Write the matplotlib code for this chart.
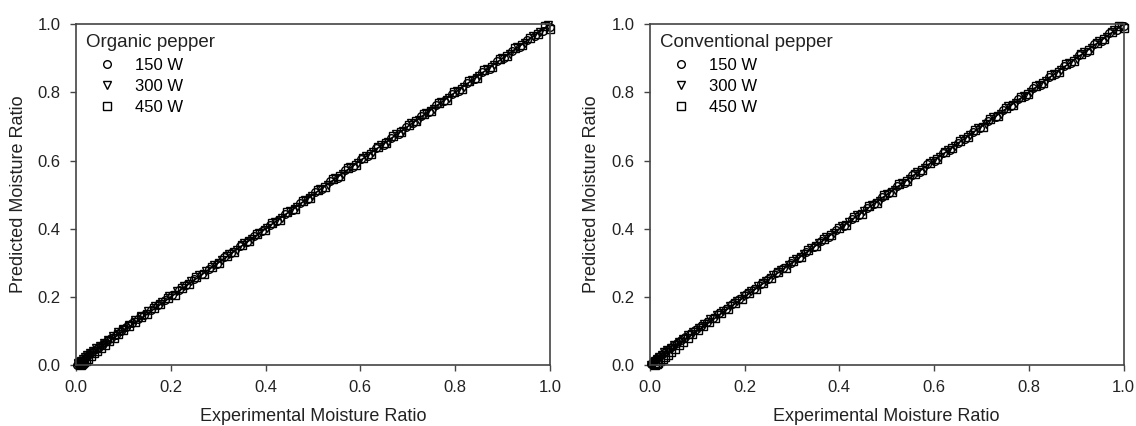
import matplotlib.pyplot as plt

plt.rcParams['font.family'] = ['Liberation Sans', 'DejaVu Sans']

# Organic pepper: experimental vs predicted moisture ratio
org_150_exp = [1.000, 0.985, 0.969, 0.952, 0.937, 0.921, 0.904, 0.889, 0.873, 0.856,
               0.841, 0.825, 0.808, 0.793, 0.777, 0.760, 0.745, 0.729, 0.712, 0.697,
               0.681, 0.664, 0.649, 0.633, 0.616, 0.601, 0.585, 0.568, 0.553, 0.537,
               0.520, 0.505, 0.489, 0.472, 0.457, 0.441, 0.424, 0.409, 0.393, 0.376,
               0.361, 0.345, 0.328, 0.313, 0.297, 0.280, 0.265, 0.249, 0.233, 0.218,
               0.202, 0.187, 0.172, 0.158, 0.144, 0.131, 0.118, 0.106, 0.095, 0.084,
               0.074, 0.065, 0.056, 0.048, 0.041, 0.034, 0.028, 0.023, 0.018, 0.014,
               0.010, 0.007, 0.004, 0.002]
org_150_pre = [0.991, 0.981, 0.966, 0.954, 0.934, 0.923, 0.901, 0.892, 0.870, 0.859,
               0.838, 0.828, 0.805, 0.796, 0.774, 0.763, 0.742, 0.732, 0.709, 0.700,
               0.678, 0.667, 0.646, 0.636, 0.613, 0.604, 0.582, 0.571, 0.550, 0.540,
               0.518, 0.508, 0.487, 0.475, 0.455, 0.444, 0.423, 0.412, 0.392, 0.379,
               0.360, 0.348, 0.328, 0.316, 0.297, 0.283, 0.266, 0.252, 0.235, 0.221,
               0.205, 0.190, 0.176, 0.162, 0.148, 0.135, 0.123, 0.111, 0.100, 0.089,
               0.079, 0.070, 0.061, 0.053, 0.046, 0.039, 0.033, 0.027, 0.021, 0.016,
               0.011, 0.007, 0.003, 0.001]
org_300_exp = [0.996, 0.979, 0.964, 0.947, 0.931, 0.915, 0.899, 0.883, 0.867, 0.851,
               0.835, 0.819, 0.803, 0.787, 0.771, 0.755, 0.739, 0.723, 0.707, 0.691,
               0.675, 0.659, 0.643, 0.627, 0.611, 0.595, 0.579, 0.563, 0.547, 0.531,
               0.515, 0.499, 0.483, 0.467, 0.451, 0.435, 0.419, 0.403, 0.387, 0.371,
               0.355, 0.339, 0.323, 0.307, 0.291, 0.275, 0.259, 0.243, 0.227, 0.212,
               0.196, 0.181, 0.166, 0.152, 0.138, 0.125, 0.112, 0.100, 0.089, 0.078,
               0.068, 0.059, 0.051, 0.043, 0.036, 0.030, 0.024, 0.019, 0.015, 0.011,
               0.008, 0.005, 0.003]
org_300_pre = [0.998, 0.976, 0.966, 0.944, 0.933, 0.912, 0.901, 0.880, 0.869, 0.848,
               0.837, 0.816, 0.805, 0.784, 0.773, 0.752, 0.741, 0.720, 0.709, 0.688,
               0.677, 0.656, 0.645, 0.624, 0.613, 0.592, 0.581, 0.561, 0.549, 0.529,
               0.517, 0.497, 0.485, 0.465, 0.453, 0.433, 0.421, 0.402, 0.389, 0.370,
               0.357, 0.339, 0.325, 0.308, 0.294, 0.277, 0.263, 0.246, 0.232, 0.216,
               0.202, 0.186, 0.172, 0.158, 0.145, 0.131, 0.119, 0.107, 0.096, 0.085,
               0.075, 0.066, 0.057, 0.049, 0.042, 0.035, 0.029, 0.023, 0.018, 0.013,
               0.009, 0.005, 0.002]
org_450_exp = [1.000, 0.990, 0.974, 0.958, 0.942, 0.926, 0.910, 0.894, 0.878, 0.862,
               0.846, 0.830, 0.814, 0.798, 0.782, 0.766, 0.750, 0.734, 0.718, 0.702,
               0.686, 0.670, 0.654, 0.638, 0.622, 0.606, 0.590, 0.574, 0.558, 0.542,
               0.526, 0.510, 0.494, 0.478, 0.462, 0.446, 0.430, 0.414, 0.398, 0.382,
               0.366, 0.350, 0.334, 0.318, 0.302, 0.286, 0.270, 0.254, 0.238, 0.223,
               0.208, 0.193, 0.178, 0.164, 0.150, 0.137, 0.124, 0.112, 0.100, 0.089,
               0.079, 0.069, 0.060, 0.052, 0.044, 0.037, 0.031, 0.026, 0.021, 0.017,
               0.014, 0.012, 0.010]
org_450_pre = [0.986, 0.996, 0.971, 0.961, 0.939, 0.929, 0.907, 0.897, 0.875, 0.865,
               0.843, 0.833, 0.811, 0.801, 0.779, 0.769, 0.747, 0.737, 0.715, 0.705,
               0.683, 0.673, 0.651, 0.641, 0.619, 0.609, 0.587, 0.577, 0.555, 0.545,
               0.523, 0.513, 0.491, 0.481, 0.459, 0.449, 0.427, 0.417, 0.395, 0.385,
               0.363, 0.353, 0.332, 0.321, 0.300, 0.289, 0.268, 0.257, 0.237, 0.226,
               0.207, 0.196, 0.178, 0.167, 0.151, 0.140, 0.126, 0.115, 0.102, 0.092,
               0.080, 0.070, 0.060, 0.051, 0.042, 0.034, 0.026, 0.019, 0.013, 0.008,
               0.005, 0.003, 0.001]

# Conventional pepper
con_150_exp = [1.000, 0.986, 0.970, 0.954, 0.938, 0.922, 0.906, 0.890, 0.874, 0.858,
               0.842, 0.826, 0.810, 0.794, 0.778, 0.762, 0.746, 0.730, 0.714, 0.698,
               0.682, 0.666, 0.650, 0.634, 0.618, 0.602, 0.586, 0.570, 0.554, 0.538,
               0.522, 0.506, 0.490, 0.474, 0.458, 0.442, 0.426, 0.410, 0.394, 0.378,
               0.362, 0.346, 0.330, 0.314, 0.298, 0.282, 0.266, 0.250, 0.234, 0.219,
               0.204, 0.189, 0.174, 0.160, 0.146, 0.133, 0.120, 0.108, 0.096, 0.085,
               0.075, 0.066, 0.057, 0.049, 0.042, 0.035, 0.029, 0.023, 0.018, 0.014,
               0.010, 0.007, 0.004, 0.002]
con_150_pre = [0.994, 0.983, 0.973, 0.951, 0.941, 0.919, 0.909, 0.887, 0.877, 0.855,
               0.845, 0.823, 0.813, 0.791, 0.781, 0.759, 0.749, 0.727, 0.717, 0.695,
               0.685, 0.663, 0.653, 0.631, 0.621, 0.599, 0.589, 0.567, 0.557, 0.535,
               0.525, 0.504, 0.493, 0.472, 0.461, 0.440, 0.429, 0.409, 0.397, 0.377,
               0.365, 0.346, 0.333, 0.315, 0.301, 0.284, 0.270, 0.253, 0.239, 0.223,
               0.209, 0.194, 0.180, 0.166, 0.152, 0.139, 0.127, 0.115, 0.103, 0.092,
               0.082, 0.073, 0.064, 0.056, 0.049, 0.042, 0.036, 0.030, 0.024, 0.019,
               0.014, 0.009, 0.005, 0.002]
con_300_exp = [0.995, 0.980, 0.965, 0.949, 0.933, 0.917, 0.901, 0.885, 0.869, 0.853,
               0.837, 0.821, 0.805, 0.789, 0.773, 0.757, 0.741, 0.725, 0.709, 0.693,
               0.677, 0.661, 0.645, 0.629, 0.613, 0.597, 0.581, 0.565, 0.549, 0.533,
               0.517, 0.501, 0.485, 0.469, 0.453, 0.437, 0.421, 0.405, 0.389, 0.373,
               0.357, 0.341, 0.325, 0.309, 0.293, 0.277, 0.261, 0.245, 0.229, 0.214,
               0.199, 0.184, 0.169, 0.155, 0.141, 0.128, 0.115, 0.103, 0.091, 0.080,
               0.070, 0.061, 0.052, 0.044, 0.037, 0.031, 0.025, 0.020, 0.016, 0.012,
               0.009, 0.006, 0.003]
con_300_pre = [0.991, 0.982, 0.962, 0.951, 0.930, 0.919, 0.898, 0.887, 0.866, 0.855,
               0.834, 0.823, 0.802, 0.791, 0.770, 0.759, 0.738, 0.727, 0.706, 0.695,
               0.674, 0.663, 0.642, 0.631, 0.610, 0.599, 0.578, 0.567, 0.546, 0.535,
               0.514, 0.503, 0.482, 0.471, 0.451, 0.439, 0.419, 0.407, 0.388, 0.375,
               0.357, 0.343, 0.326, 0.311, 0.295, 0.279, 0.264, 0.247, 0.233, 0.217,
               0.203, 0.188, 0.174, 0.160, 0.147, 0.134, 0.122, 0.110, 0.098, 0.087,
               0.077, 0.068, 0.059, 0.051, 0.044, 0.037, 0.031, 0.025, 0.019, 0.013,
               0.008, 0.004, 0.001]
con_450_exp = [1.000, 0.991, 0.975, 0.959, 0.943, 0.927, 0.911, 0.895, 0.879, 0.863,
               0.847, 0.831, 0.815, 0.799, 0.783, 0.767, 0.751, 0.735, 0.719, 0.703,
               0.687, 0.671, 0.655, 0.639, 0.623, 0.607, 0.591, 0.575, 0.559, 0.543,
               0.527, 0.511, 0.495, 0.479, 0.463, 0.447, 0.431, 0.415, 0.399, 0.383,
               0.367, 0.351, 0.335, 0.319, 0.303, 0.287, 0.271, 0.255, 0.239, 0.224,
               0.209, 0.194, 0.179, 0.165, 0.151, 0.138, 0.125, 0.113, 0.101, 0.090,
               0.080, 0.070, 0.061, 0.053, 0.045, 0.038, 0.032, 0.027, 0.022, 0.018,
               0.015, 0.012, 0.010]
con_450_pre = [0.988, 0.994, 0.978, 0.956, 0.946, 0.924, 0.914, 0.892, 0.882, 0.860,
               0.850, 0.828, 0.818, 0.796, 0.786, 0.764, 0.754, 0.732, 0.722, 0.700,
               0.690, 0.668, 0.658, 0.636, 0.626, 0.604, 0.594, 0.572, 0.562, 0.540,
               0.530, 0.508, 0.498, 0.476, 0.466, 0.444, 0.434, 0.412, 0.402, 0.381,
               0.370, 0.349, 0.338, 0.318, 0.306, 0.286, 0.274, 0.255, 0.242, 0.224,
               0.211, 0.194, 0.181, 0.166, 0.153, 0.139, 0.127, 0.114, 0.102, 0.090,
               0.079, 0.068, 0.058, 0.048, 0.039, 0.031, 0.024, 0.018, 0.012, 0.007,
               0.004, 0.002, 0.001]

labels = ["150 W", "300 W", "450 W"]
markers = ["o", "v", "s"]
line_1to1 = [0.0, 1.0]
ticks = [0.0, 0.2, 0.4, 0.6, 0.8, 1.0]

panels = [
    ("Organic pepper", [(org_150_exp, org_150_pre), (org_300_exp, org_300_pre), (org_450_exp, org_450_pre)]),
    ("Conventional pepper", [(con_150_exp, con_150_pre), (con_300_exp, con_300_pre), (con_450_exp, con_450_pre)]),
]

fig = plt.figure(figsize=(11.36, 4.26), dpi=100)
positions = [[0.067, 0.143, 0.417, 0.800], [0.572, 0.143, 0.417, 0.800]]

for pos, (title, series) in zip(positions, panels):
    ax = fig.add_axes(pos)
    ax.plot(line_1to1, line_1to1, color="black", lw=1.2, zorder=1)
    for (xs, ys), lab, mk in zip(series, labels, markers):
        ax.plot(xs, ys, linestyle="none", marker=mk, markersize=5.5, markerfacecolor="none",
                markeredgecolor="black", markeredgewidth=1.0, label=lab, zorder=2, clip_on=False)
    ax.set_xlim(0, 1)
    ax.set_ylim(0, 1)
    ax.set_xticks(ticks)
    ax.set_yticks(ticks)
    ax.set_xticklabels([f"{t:.1f}" for t in ticks])
    ax.set_yticklabels([f"{t:.1f}" for t in ticks])
    ax.tick_params(direction="out", length=4, width=1, labelsize=12, pad=7, color="#444444",
                   labelcolor="#222222")
    for s in ax.spines.values():
        s.set_color("#444444")
        s.set_linewidth(1.2)
    ax.set_xlabel("Experimental Moisture Ratio", fontsize=13, labelpad=9, color="#222222")
    ax.set_ylabel("Predicted Moisture Ratio", fontsize=13, labelpad=8, color="#222222")
    leg = ax.legend(loc="upper left", title=title, frameon=False, fontsize=12, title_fontsize=13.5,
                    handlelength=2.5, handletextpad=0.45, labelspacing=0.38, borderaxespad=0.15,
                    borderpad=0.45, alignment="left")
    leg.get_title().set_color("#222222")

plt.savefig("out.png", dpi=100)
